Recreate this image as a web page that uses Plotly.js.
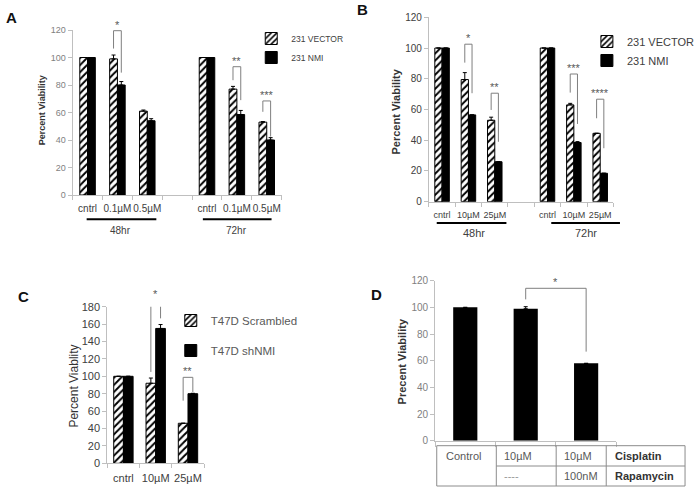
<!DOCTYPE html>
<html>
<head>
<meta charset="utf-8">
<script src="https://cdn.plot.ly/plotly-3.0.1.min.js"></script>
<style>
  html, body { margin: 0; padding: 0; background: #fff; }
  #chart { width: 700px; height: 488px; }
</style>
</head>
<body>
<div id="chart"></div>
<script>
// A: 231 cells, 48hr / 72hr, low doses
const timesA = ['48hr', '72hr'];
const dosesA = ['cntrl', '0.1µM', '0.5µM'];
const vectorA = [100, 99, 61, 100, 77, 53];
const vectorAErr = [0, 2.8, 0.8, 0, 2, 0.4];
const nmiA = [100, 80, 54, 100, 58.5, 40];
const nmiAErr = [0, 2.5, 1.5, 0, 3, 1.7];

// B: 231 cells, 48hr / 72hr, high doses
const timesB = ['48hr', '72hr'];
const dosesB = ['cntrl', '10µM', '25µM'];
const vectorB = [100, 79.5, 53, 100, 63, 44.5];
const vectorBErr = [0, 4.5, 2, 0, 1, 0];
const nmiB = [100, 56.5, 26, 100, 38.5, 18.5];
const nmiBErr = [0, 0, 0, 0, 0.6, 0];

// C: T47D
const dosesC = ['cntrl', '10µM', '25µM'];
const scrambledC = [100, 92, 46];
const scrambledCErr = [0, 6, 0];
const shNmiC = [100, 155, 80];
const shNmiCErr = [0, 4.5, 0.5];

// D: cisplatin +/- rapamycin
const treatD = ['Control', '10µM', '10µM + 100nM'];
const viabilityD = [100, 99, 58];
const viabilityDErr = [0, 1.5, 0];

// significance brackets: [data index, left end, top, right end, label]
const sigA = [[1, 106.5, 119.5, 89, '*'], [4, 83.5, 93.3, 69, '**'], [5, 60.5, 68.4, 42.5, '***']];
const sigB = [[1, 90.5, 102.5, 70.6, '*'], [2, 59.7, 70.6, 39, '**'], [4, 71, 83.1, 50.6, '***'], [5, 54.3, 66.7, 34.8, '****']];
const sigC = [[1, 105, 187.6, 166.6, '*'], [2, 72, 98.8, 82, '**']];
// D bracket goes from one bar to another: [left index, right index, left end, top, right end, label]
const sigD = [[1, 2, 106, 114.3, 66.8, '*']];

// pixel helpers for layout-only items
const W = 700, H = 488;
const px = (x) => x / W;
const py = (y) => 1 - y / H;

// x position of each bar, leaving one empty slot between time groups
function slotPositions(times, doses) {
  const pos = [];
  times.forEach((t, ti) => doses.forEach((d, di) => pos.push(ti * (doses.length + 1) + di)));
  return pos;
}
function boundaries(n) {
  return Array.from({ length: n + 1 }, (_, i) => i - 0.5);
}

const HATCH = { shape: '/', fgcolor: '#000', bgcolor: '#fff', size: 5, solidity: 0.4 };
const GREY = '#7f7f7f';

function errY(arr) {
  return {
    type: 'data', symmetric: false, array: arr, arrayminus: arr.map(() => 0),
    color: '#000', thickness: 1, width: 2,
  };
}

function pairBars(x, a, aErr, b, bErr, names, w, ax, legend) {
  return [
    {
      type: 'bar', x: x, y: a, name: names[0], width: w, offset: -w,
      marker: { color: '#fff', pattern: HATCH, line: { color: '#000', width: 1 } },
      error_y: errY(aErr), xaxis: 'x' + ax, yaxis: 'y' + ax,
      legend: legend, legendgroup: legend + 'a', hoverinfo: 'y',
    },
    {
      type: 'bar', x: x, y: b, name: names[1], width: w, offset: 0,
      marker: { color: '#000', line: { color: '#000', width: 1 } },
      error_y: errY(bErr), xaxis: 'x' + ax, yaxis: 'y' + ax,
      legend: legend, legendgroup: legend + 'b', hoverinfo: 'y',
    },
  ];
}

const traces = [];
const annotations = [];
const shapes = [];
const stars = [];

function bracket(x0, x1, lb, top, rb, label, ax) {
  traces.push({
    type: 'scatter', mode: 'lines',
    x: [x0, x0, x1, x1], y: [lb, top, top, rb],
    line: { color: GREY, width: 1 }, cliponaxis: false,
    xaxis: 'x' + ax, yaxis: 'y' + ax, showlegend: false, hoverinfo: 'skip',
  });
  stars.push({ x: (x0 + x1) / 2, y: top, text: label, ax: ax });
}
function addBrackets(sig, x, half, ax) {
  sig.forEach(([i, lb, top, rb, label]) => bracket(x[i] - half, x[i] + half, lb, top, rb, label, ax));
}

// --- A
const xA = slotPositions(timesA, dosesA);
const wA = 0.26;
traces.push(...pairBars(xA, vectorA, vectorAErr, nmiA, nmiAErr, ['231 VECTOR', '231 NMI'], wA, '', 'legend'));
addBrackets(sigA, xA, wA / 2, '');

// --- B
const xB = slotPositions(timesB, dosesB);
const wB = 0.275;
traces.push(...pairBars(xB, vectorB, vectorBErr, nmiB, nmiBErr, ['231 VECTOR', '231 NMI'], wB, '2', 'legend2'));
addBrackets(sigB, xB, wB / 2, '2');

// --- C
const xC = dosesC.map((d, i) => i);
const wC = 0.3;
traces.push(...pairBars(xC, scrambledC, scrambledCErr, shNmiC, shNmiCErr, ['T47D Scrambled', 'T47D shNMI'], wC, '3', 'legend3'));
addBrackets(sigC, xC, wC / 2, '3');

// --- D
const xD = treatD.map((t, i) => i);
traces.push({
  type: 'bar', x: xD, y: viabilityD, width: 0.4, showlegend: false,
  marker: { color: '#000' }, error_y: errY(viabilityDErr),
  xaxis: 'x4', yaxis: 'y4', hoverinfo: 'y',
});
sigD.forEach(([i, j, lb, top, rb, label]) => bracket(xD[i], xD[j], lb, top, rb, label, '4'));

// axes
function xAxis(domain, anchor, n, tickvals, ticktext, fontSize, fontColor, ticklen) {
  return {
    domain: domain, anchor: anchor, range: [-0.5, n - 0.5],
    showline: true, linecolor: '#bfbfbf', linewidth: 1,
    showgrid: false, zeroline: false, fixedrange: true,
    tickmode: 'array', tickvals: tickvals, ticktext: ticktext, ticks: '', tickangle: 0,
    ticklabelstandoff: 4,
    tickfont: { size: fontSize, color: fontColor },
    minor: { tickmode: 'array', tickvals: boundaries(n), ticks: 'outside', ticklen: ticklen, tickcolor: '#bfbfbf', showgrid: false },
  };
}
function yAxis(domain, anchor, max, fontSize, fontColor) {
  return {
    domain: domain, anchor: anchor, range: [0, max], dtick: 20,
    showline: true, linecolor: '#bfbfbf', linewidth: 1,
    showgrid: false, zeroline: false, fixedrange: true,
    ticks: 'outside', ticklen: 4, tickcolor: '#bfbfbf',
    tickfont: { size: fontSize, color: fontColor },
  };
}

const layout = {
  width: W, height: H,
  margin: { l: 0, r: 0, t: 0, b: 0 },
  paper_bgcolor: '#fff', plot_bgcolor: '#fff',
  barmode: 'overlay',
  font: { family: 'Liberation Sans, Arial, sans-serif', color: '#404040' },
  xaxis: xAxis([px(74), px(287)], 'y', 7, xA, xA.map((p, i) => dosesA[i % dosesA.length]), 10, '#404040', 4),
  yaxis: yAxis([py(195), py(30)], 'x', 120, 9, '#7f7f7f'),
  xaxis2: xAxis([px(437), px(625)], 'y2', 7, xB, xB.map((p, i) => dosesB[i % dosesB.length]), 9, '#404040', 4),
  yaxis2: yAxis([py(201.7), py(17.3)], 'x2', 120, 10, '#404040'),
  xaxis3: xAxis([px(109.3), px(208)], 'y3', 3, xC, dosesC, 11, '#404040', 4),
  yaxis3: yAxis([py(463.3), py(306.7)], 'x3', 180, 11, '#404040'),
  xaxis4: Object.assign(xAxis([px(443.3), px(628)], 'y4', 3, xD, treatD, 10, '#404040', 5), { showticklabels: false }),
  yaxis4: yAxis([py(440.7), py(280.7)], 'x4', 120, 10, '#7f7f7f'),
  legend: {
    x: px(256), y: py(24), xanchor: 'left', yanchor: 'top', bgcolor: 'rgba(0,0,0,0)',
    font: { size: 8.5, color: '#404040' }, traceorder: 'grouped', tracegroupgap: 0,
  },
  legend2: {
    x: px(598), y: py(27), xanchor: 'left', yanchor: 'top', bgcolor: 'rgba(0,0,0,0)',
    font: { size: 11, color: '#404040' }, traceorder: 'grouped', tracegroupgap: 0,
  },
  legend3: {
    x: px(174), y: py(306), xanchor: 'left', yanchor: 'top', bgcolor: 'rgba(0,0,0,0)',
    font: { size: 11.5, color: '#595959' }, traceorder: 'grouped', tracegroupgap: 11,
  },
  annotations: annotations,
  shapes: shapes,
};

function label(text, x, y, size, color, opts) {
  annotations.push(Object.assign({
    xref: 'paper', yref: 'paper', x: px(x), y: py(y), xanchor: 'center', yanchor: 'middle',
    text: text, showarrow: false, font: { size: size, color: color },
  }, opts || {}));
}

// significance stars, placed on paper so the ones above an axis top are kept
stars.forEach((s) => {
  const ya = layout['yaxis' + s.ax];
  const frac = (s.y - ya.range[0]) / (ya.range[1] - ya.range[0]);
  annotations.push({
    xref: 'x' + s.ax, yref: 'paper', x: s.x,
    y: ya.domain[0] + frac * (ya.domain[1] - ya.domain[0]),
    xanchor: 'center', yanchor: 'bottom', yshift: -2,
    text: s.text, showarrow: false, font: { size: 11, color: '#595959' },
  });
});

// panel letters
[['A', 12, 18], ['B', 369, 10], ['C', 24, 296], ['D', 384, 294]].forEach(([t, x, y]) => {
  label('<b>' + t + '</b>', x, y, 15, '#111');
});

// y axis titles
label('<b>Percent Viability</b>', 43, 110, 9, '#333', { textangle: -90 });
label('<b>Percent Viability</b>', 403, 112, 11, '#333', { textangle: -90 });
label('Percent Viablity', 75, 386, 12, '#333', { textangle: -90 });
label('<b>Precent Viability</b>', 410, 361, 11, '#333', { textangle: -90 });

// time group labels with underline (A and B)
[
  [timesA[0], 88.3, 159.3, 219.3, 123, 230, 10],
  [timesA[1], 206.7, 276.7, 219.3, 241, 230, 10],
  [timesB[0], 445, 516, 223, 483, 233, 11],
  [timesB[1], 561.7, 631.7, 223, 597, 233, 11],
].forEach(([t, x0, x1, yl, xt, yt, s]) => {
  shapes.push({
    type: 'line', xref: 'paper', yref: 'paper', x0: px(x0), x1: px(x1), y0: py(yl), y1: py(yl),
    line: { color: '#000', width: 2 },
  });
  label(t, xt, yt, s, '#404040');
});

// treatment table under D
const tblL = 445, tblR = 698, tblT = 445.7, tblM = 466, tblB = 486;
const cols = [505.7, 566.7, 617.7];
const tblLine = { color: '#8c8c8c', width: 1 };
shapes.push({ type: 'rect', xref: 'paper', yref: 'paper', x0: px(tblL), x1: px(tblR), y0: py(tblB), y1: py(tblT), line: tblLine });
shapes.push({ type: 'line', xref: 'paper', yref: 'paper', x0: px(cols[0]), x1: px(tblR), y0: py(tblM), y1: py(tblM), line: tblLine });
cols.forEach((c) => shapes.push({ type: 'line', xref: 'paper', yref: 'paper', x0: px(c), x1: px(c), y0: py(tblB), y1: py(tblT), line: tblLine }));
const tableCells = [
  ['Control', tblL + 7, 456, false],
  ['10µM', cols[0] + 6, 456, false],
  ['----', cols[0] + 6, 476, false],
  ['10µM', cols[1] + 6, 456, false],
  ['100nM', cols[1] + 6, 476, false],
  ['Cisplatin', cols[2] + 7, 456, true],
  ['Rapamycin', cols[2] + 7, 476, true],
];
tableCells.forEach(([t, x, y, bold]) => {
  label(bold ? '<b>' + t + '</b>' : t, x, y, 11, bold ? '#333' : (t === '----' ? '#999' : '#595959'), { xanchor: 'left' });
});

Plotly.newPlot('chart', traces, layout, { displayModeBar: false, staticPlot: true });
</script>
</body>
</html>
